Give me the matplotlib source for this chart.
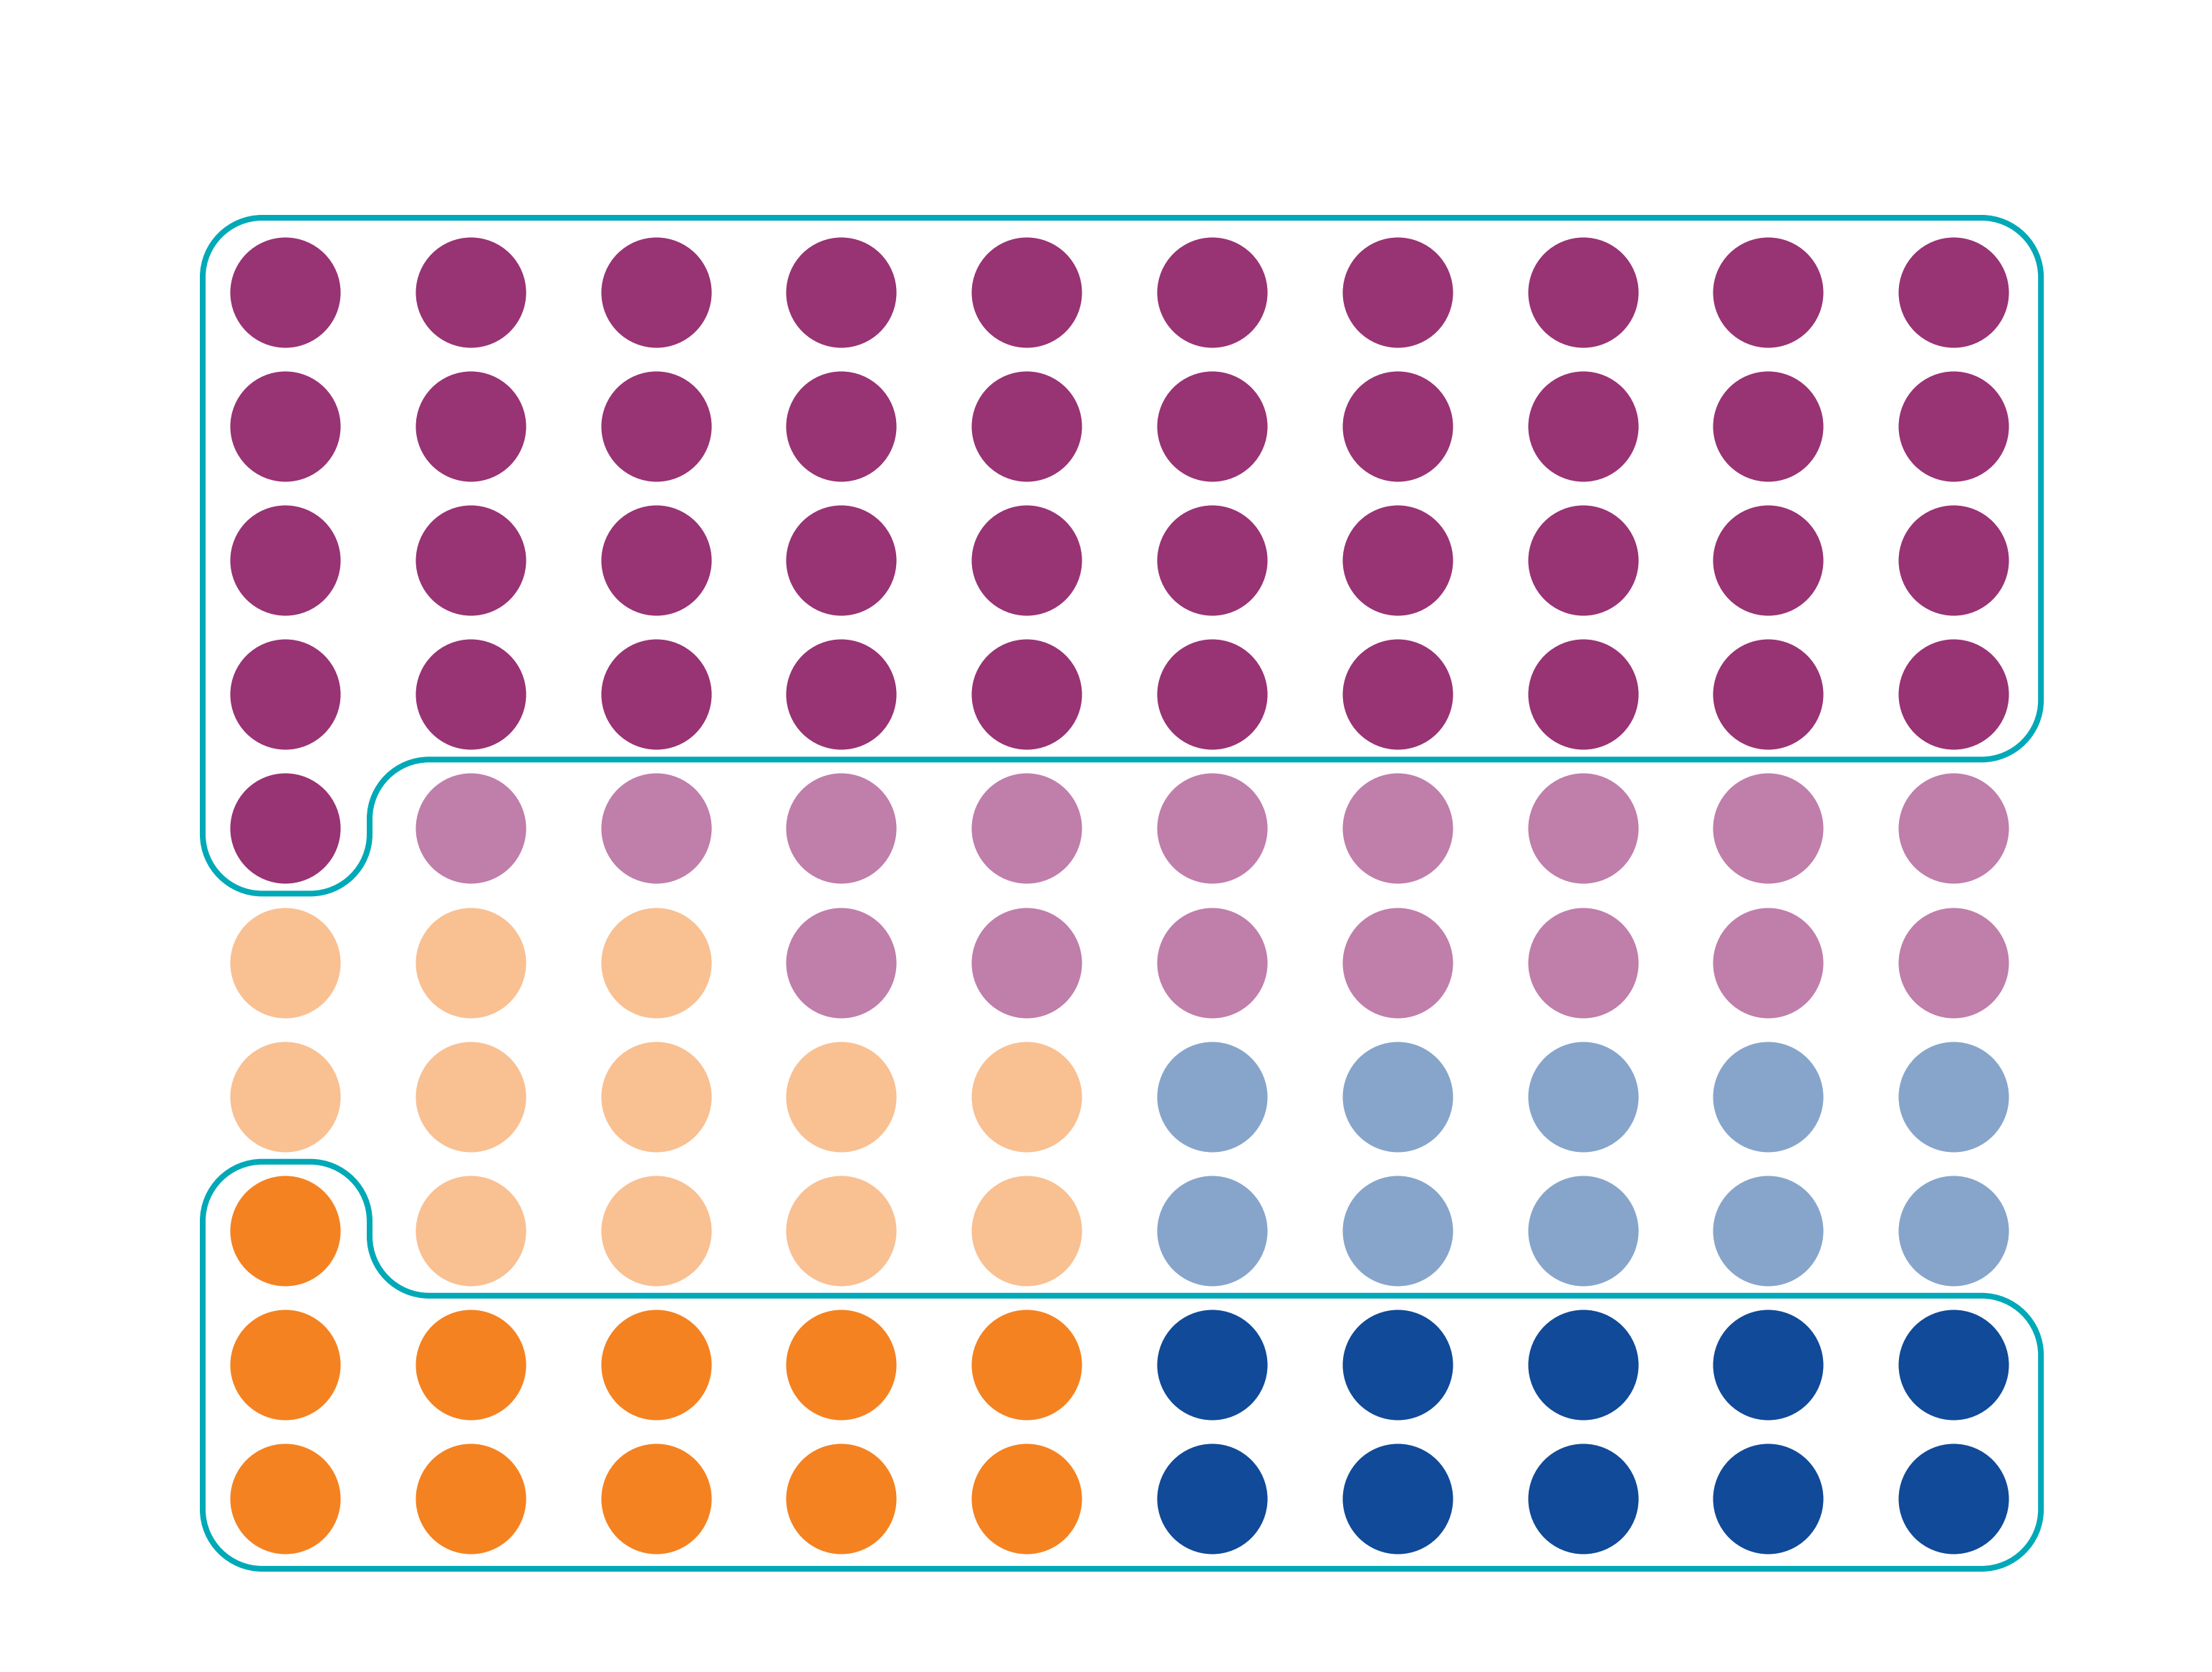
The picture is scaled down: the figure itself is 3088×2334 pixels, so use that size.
import matplotlib
matplotlib.use('Agg')
import matplotlib.pyplot as plt
from matplotlib.path import Path
from matplotlib.patches import PathPatch

# 10 x 10 dot grid, one code per dot (row by row, top to bottom)
grid_rows = [
    'DDDDDDDDDD',
    'DDDDDDDDDD',
    'DDDDDDDDDD',
    'DDDDDDDDDD',
    'DLLLLLLLLL',
    'oooLLLLLLL',
    'ooooobbbbb',
    'Ooooobbbbb',
    'OOOOOBBBBB',
    'OOOOOBBBBB',
]
codes = ['D', 'L', 'o', 'O', 'b', 'B']
colors = ['#983374', '#C07EAA', '#F9C092', '#F48221', '#87A5CB', '#104A98']
outline_color = '#00A9B7'

W, H, DPI = 3088, 2334, 100
x0, dx = 398, 258.8   # column centres (px)
y0, dy = 408, 187.1   # row centres (px)
dot_d = 154           # dot diameter (px)


def cx(c):
    return x0 + c * dx


def cy(r):
    return y0 + r * dy


def rounded_path(pts, rad):
    # closed polygon with 90 degree corners rounded by rad
    k = 0.5523
    verts, cmds = [], []
    n = len(pts)
    for i in range(n):
        p_prev, p, p_next = pts[i - 1], pts[i], pts[(i + 1) % n]
        din = ((p[0] - p_prev[0]), (p[1] - p_prev[1]))
        dout = ((p_next[0] - p[0]), (p_next[1] - p[1]))
        li = (din[0] ** 2 + din[1] ** 2) ** 0.5
        lo = (dout[0] ** 2 + dout[1] ** 2) ** 0.5
        din = (din[0] / li, din[1] / li)
        dout = (dout[0] / lo, dout[1] / lo)
        a = (p[0] - rad * din[0], p[1] - rad * din[1])
        b = (p[0] + rad * dout[0], p[1] + rad * dout[1])
        verts.append(a)
        cmds.append(Path.MOVETO if i == 0 else Path.LINETO)
        verts += [(a[0] + k * rad * din[0], a[1] + k * rad * din[1]),
                  (b[0] - k * rad * dout[0], b[1] - k * rad * dout[1]), b]
        cmds += [Path.CURVE4] * 3
    verts.append(verts[0])
    cmds.append(Path.CLOSEPOLY)
    return Path(verts, cmds)


fig = plt.figure(figsize=(W / DPI, H / DPI), dpi=DPI)
ax = fig.add_axes([0, 0, 1, 1])
ax.set_xlim(0, W)
ax.set_ylim(H, 0)
ax.axis('off')

size = (dot_d * 72 / DPI) ** 2
for code, col in zip(codes, colors):
    xs, ys = [], []
    for r, row in enumerate(grid_rows):
        for c, ch in enumerate(row):
            if ch == code:
                xs.append(cx(c))
                ys.append(cy(r))
    ax.scatter(xs, ys, s=size, color=col, linewidths=0, zorder=2)

left, right, step_x = cx(0) - 115, cx(9) + 122, cx(0) + 118
top_group = [
    (left, cy(0) - 104), (right, cy(0) - 104), (right, cy(3) + 91),
    (step_x, cy(3) + 91), (step_x, cy(4) + 91), (left, cy(4) + 91),
]
bottom_group = [
    (left, cy(7) - 96), (step_x, cy(7) - 96), (step_x, cy(7) + 91),
    (right, cy(7) + 91), (right, cy(9) + 98), (left, cy(9) + 98),
]
lw = 8 * 72 / DPI
for pts in (top_group, bottom_group):
    ax.add_patch(PathPatch(rounded_path(pts, 83), facecolor='none',
                           edgecolor=outline_color, linewidth=lw, zorder=3))

fig.savefig('out.png', dpi=DPI, facecolor='white')
